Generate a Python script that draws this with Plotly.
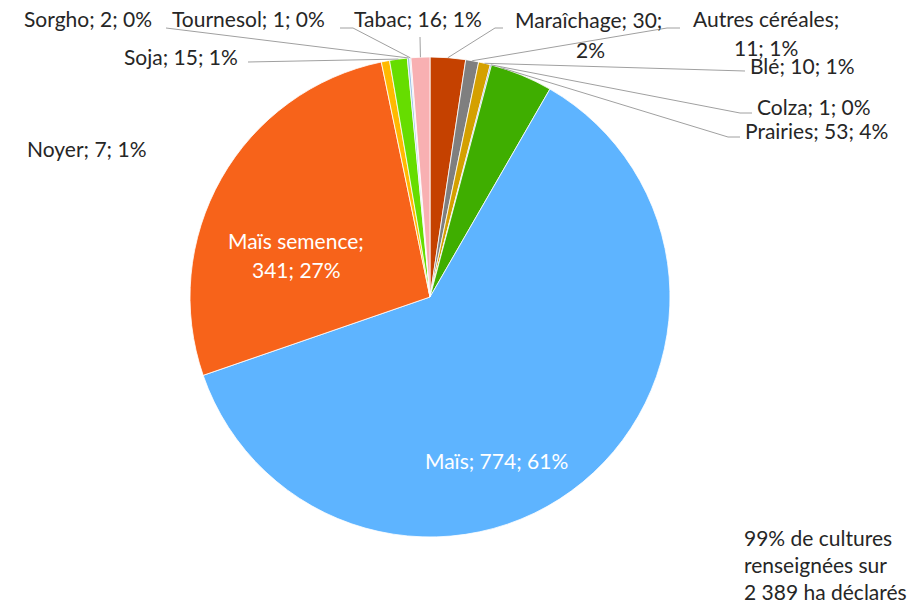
import math
import plotly.graph_objects as go

W, H = 919, 604

# ---- data ----
labels = ["Maraîchage", "Autres céréales", "Blé", "Colza", "Prairies", "Maïs",
          "Maïs semence", "Noyer", "Soja", "Sorgho", "Tournesol", "Tabac"]
values = [30, 11, 10, 1, 53, 774, 341, 7, 15, 2, 1, 16]
percents = ["2%", "1%", "1%", "0%", "4%", "61%", "27%", "1%", "1%", "0%", "0%", "1%"]
colors = ["#C54100", "#7F7F7F", "#D4A000", "#4472C4", "#3FAE00", "#5EB4FF",
          "#F7631A", "#FFB900", "#66DD00", "#9DC3E6", "#BDD7EE", "#F8B0B2"]
note_lines = ["99% de cultures", "renseignées sur", "2 389 ha déclarés"]

# ---- geometry (pixels, in screenshot coordinates) ----
OFF = 0
CX, CY, R = 430, 297, 240
FONT = "Lato"
FS = 21
TXT = "#262626"
LINE = "#A0A0A0"


def px(x):
    return (x - OFF) / W


def py(y):
    return 1 - (y - OFF) / H


total = sum(values)
cum = 0
angles = {}
for lab, v in zip(labels, values):
    angles[lab] = (cum / total * 360, (cum + v) / total * 360)
    cum += v


def edge(lab, frac=0.5):
    a0, a1 = angles[lab]
    a = math.radians(a0 + (a1 - a0) * frac)
    return (CX + R * math.sin(a), CY - R * math.cos(a))


fig = go.Figure()
fig.add_trace(go.Pie(
    labels=labels, values=values, sort=False, direction="clockwise", rotation=0,
    marker=dict(colors=colors, line=dict(color="white", width=0.8)),
    textinfo="none", hoverinfo="label+value+percent", showlegend=False,
    domain=dict(x=[px(CX - R), px(CX + R)], y=[py(CY + R), py(CY - R)]),
))

annotations = []
shapes = []


def label(text, x, y, anchor="left", color=TXT):
    annotations.append(dict(text=text, x=px(x), y=py(y), xref="paper", yref="paper",
                            xanchor=anchor, yanchor="middle", showarrow=False,
                            font=dict(family=FONT, size=FS, color=color)))


def leader(points, lab, frac=0.5):
    pts = list(points) + [edge(lab, frac)]
    for (x0, y0), (x1, y1) in zip(pts[:-1], pts[1:]):
        shapes.append(dict(type="line", xref="paper", yref="paper",
                           x0=px(x0), y0=py(y0), x1=px(x1), y1=py(y1),
                           line=dict(color=LINE, width=1)))


def txt(i):
    return f"{labels[i]}; {values[i]}; {percents[i]}"


# outside labels
label(txt(9), 22, 19)
leader([(166, 28)], "Sorgho")
label(txt(10), 170, 19)
leader([(340, 28), (353, 28)], "Tournesol")
label(txt(11), 352, 19)
leader([(420, 37)], "Tabac")
label(txt(8), 122, 57)
leader([(248, 62)], "Soja")
label(txt(7), 25, 148)

label(f"{labels[0]}; {values[0]};", 588, 20, "center")
label(percents[0], 590, 50, "center")
leader([(503, 28), (495, 28)], "Maraîchage")

label(f"{labels[1]};", 766, 19, "center")
label(f"{values[1]}; {percents[1]}", 766, 48, "center")
leader([(680, 28), (667, 28)], "Autres céréales")

label(txt(2), 748, 65)
leader([(745, 71)], "Blé")
label(txt(3), 755, 107)
leader([(752, 113), (740, 113)], "Colza")
label(txt(4), 743, 130)
leader([(740, 137), (728, 137)], "Prairies", 0.15)

# inside labels
label(f"{labels[6]};", 296, 240, "center", "white")
label(f"{values[6]}; {percents[6]}", 296, 270, "center", "white")
label(txt(5), 497, 460, "center", "white")

# note
for i, t in enumerate(note_lines):
    label(t, 742, 537 + i * 27)

fig.update_layout(
    width=W, height=H, margin=dict(l=0, r=0, t=0, b=0),
    paper_bgcolor="white", plot_bgcolor="white",
    annotations=annotations, shapes=shapes,
    font=dict(family=FONT, size=FS, color=TXT),
)
fig.write_html("out.html", config={"displayModeBar": False},
               post_script="document.body.style.margin='0px';")
